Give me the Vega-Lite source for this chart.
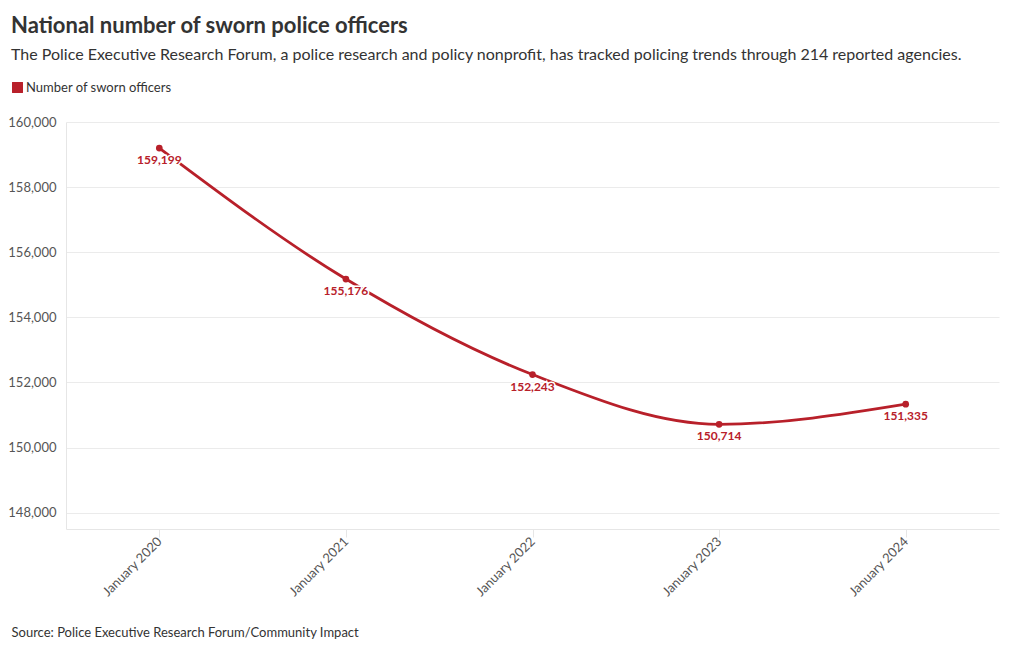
{
  "$schema": "https://vega.github.io/schema/vega-lite/v6.json",
  "autosize": "none",
  "width": 933,
  "height": 407,
  "padding": {"left": 66, "top": 122, "right": 21, "bottom": 121},
  "background": "white",
  "config": {
    "font": "Lato",
    "view": {"stroke": null}
  },
  "title": {
    "text": "National number of sworn police officers",
    "subtitle": "The Police Executive Research Forum, a police research and policy nonprofit, has tracked policing trends through 214 reported agencies.",
    "anchor": "start",
    "frame": "group",
    "dx": -55,
    "offset": 17,
    "font": "Lato",
    "fontSize": 22,
    "fontWeight": "bold",
    "color": "#333333",
    "subtitleFont": "Lato",
    "subtitleFontSize": 16,
    "subtitleColor": "#333333",
    "subtitlePadding": 9
  },
  "data": {
    "values": [
      {"date": "January 2020", "value": 159199, "series": "Number of sworn officers"},
      {"date": "January 2021", "value": 155176, "series": "Number of sworn officers"},
      {"date": "January 2022", "value": 152243, "series": "Number of sworn officers"},
      {"date": "January 2023", "value": 150714, "series": "Number of sworn officers"},
      {"date": "January 2024", "value": 151335, "series": "Number of sworn officers"}
    ]
  },
  "encoding": {
    "x": {
      "field": "date",
      "type": "ordinal",
      "scale": {"type": "point", "padding": 0.5},
      "axis": {
        "title": "Source: Police Executive Research Forum/Community Impact",
        "titleAnchor": "start",
        "titleAlign": "left",
        "titleX": -55,
        "titleY": 97,
        "titleFont": "Lato",
        "titleFontSize": 13,
        "titleFontWeight": "normal",
        "titleColor": "#333333",
        "labelAngle": -45,
        "labelAlign": "right",
        "labelBaseline": "middle",
        "labelFontSize": 13,
        "labelColor": "#555555",
        "labelPadding": 2,
        "domainColor": "#e6e6e6",
        "tickColor": "#e6e6e6",
        "tickSize": 8,
        "grid": false
      }
    },
    "y": {
      "field": "value",
      "type": "quantitative",
      "scale": {"domain": [147500, 160000], "nice": false, "zero": false},
      "axis": {
        "title": null,
        "values": [148000, 150000, 152000, 154000, 156000, 158000, 160000],
        "format": ",d",
        "labelFontSize": 13,
        "labelColor": "#555555",
        "labelPadding": 10,
        "domain": true,
        "domainColor": "#e6e6e6",
        "ticks": false,
        "gridColor": "#ebebeb"
      }
    }
  },
  "layer": [
    {
      "mark": {"type": "line", "interpolate": "monotone", "strokeWidth": 2.8},
      "encoding": {
        "color": {
          "field": "series",
          "type": "nominal",
          "scale": {"range": ["#b8202a"]},
          "legend": {
            "title": null,
            "orient": "none",
            "legendX": -55,
            "legendY": -41,
            "symbolType": "square",
            "symbolSize": 120,
            "symbolStrokeWidth": 0,
            "symbolFillColor": "#b8202a",
            "labelFontSize": 13,
            "labelColor": "#333333",
            "labelOffset": 2
          }
        }
      }
    },
    {
      "mark": {"type": "point", "filled": true, "size": 45, "color": "#b8202a", "opacity": 1}
    },
    {
      "mark": {"type": "text", "dy": 12, "fontSize": 12, "fontWeight": "bold", "stroke": "white", "strokeWidth": 3, "color": "white", "baseline": "middle"},
      "encoding": {"text": {"field": "value", "type": "quantitative", "format": ",d"}}
    },
    {
      "mark": {"type": "text", "dy": 12, "fontSize": 12, "fontWeight": "bold", "color": "#b8202a", "baseline": "middle"},
      "encoding": {"text": {"field": "value", "type": "quantitative", "format": ",d"}}
    }
  ]
}
